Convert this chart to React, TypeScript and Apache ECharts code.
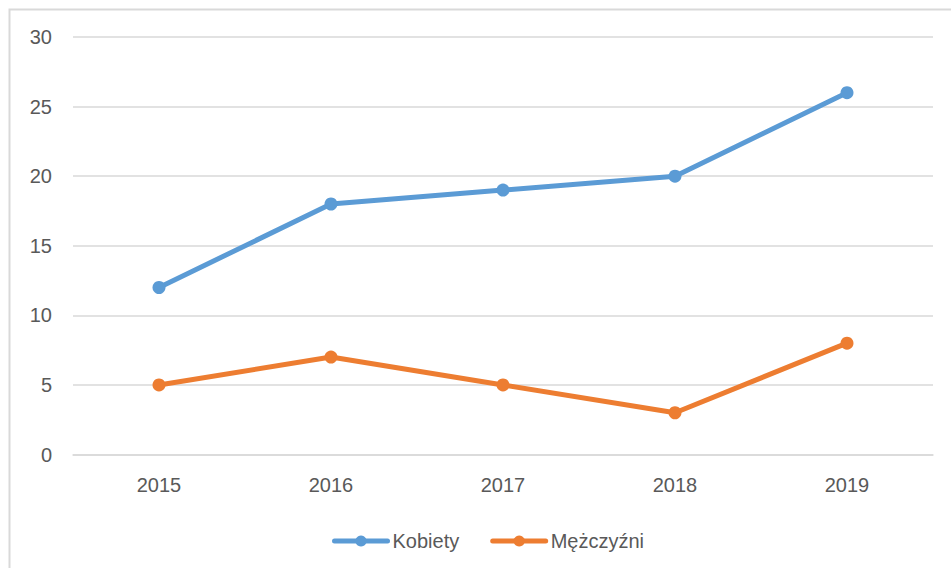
import React, { useEffect, useRef } from "react";
import * as echarts from "echarts";

const categories = ["2015", "2016", "2017", "2018", "2019"];
const kobiety = [12, 18, 19, 20, 26];
const mezczyzni = [5, 7, 5, 3, 8];
const seriesNames = ["Kobiety", "Mężczyźni"];

export default function App() {
  const ref = useRef<HTMLDivElement>(null);
  useEffect(() => {
    document.body.style.margin = "0";
    const chart = echarts.init(ref.current!, null, { renderer: "svg" });
    const font = "Liberation Sans";
    chart.setOption({
      animation: false,
      backgroundColor: "#ffffff",
      graphic: [
        {
          type: "rect",
          shape: { x: 9.5, y: 9.5, width: 1000, height: 1000 },
          style: { fill: "none", stroke: "#d9d9d9", lineWidth: 2 },
          silent: true,
        },
      ],
      grid: { left: 73, right: 18, top: 37, bottom: 113.5, containLabel: false },
      legend: {
        left: 327,
        top: 526,
        itemWidth: 53,
        itemHeight: 14,
        itemGap: 31,
        lineStyle: { width: 5, cap: "round" },
        textStyle: { fontFamily: font, fontSize: 20, color: "#595959" },
        data: seriesNames,
      },
      xAxis: {
        type: "category",
        data: categories,
        boundaryGap: true,
        axisLine: { show: true, lineStyle: { color: "#d9d9d9", width: 1.5 } },
        axisTick: { show: false },
        axisLabel: { fontFamily: font, fontSize: 20, color: "#595959", margin: 20 },
      },
      yAxis: {
        type: "value",
        min: 0,
        max: 30,
        interval: 5,
        axisLine: { show: false },
        axisTick: { show: false },
        splitLine: { lineStyle: { color: "#d9d9d9", width: 1.5 } },
        axisLabel: { fontFamily: font, fontSize: 20, color: "#595959", margin: 21 },
      },
      series: [
        {
          name: seriesNames[0],
          type: "line",
          data: kobiety,
          symbol: "circle",
          symbolSize: 13,
          lineStyle: { width: 5, color: "#5B9BD5", cap: "round" },
          itemStyle: { color: "#5B9BD5" },
        },
        {
          name: seriesNames[1],
          type: "line",
          data: mezczyzni,
          symbol: "circle",
          symbolSize: 13,
          lineStyle: { width: 5, color: "#ED7D31", cap: "round" },
          itemStyle: { color: "#ED7D31" },
        },
      ],
    });
    return () => chart.dispose();
  }, []);
  return <div ref={ref} style={{ width: 951, height: 568 }} />;
}
